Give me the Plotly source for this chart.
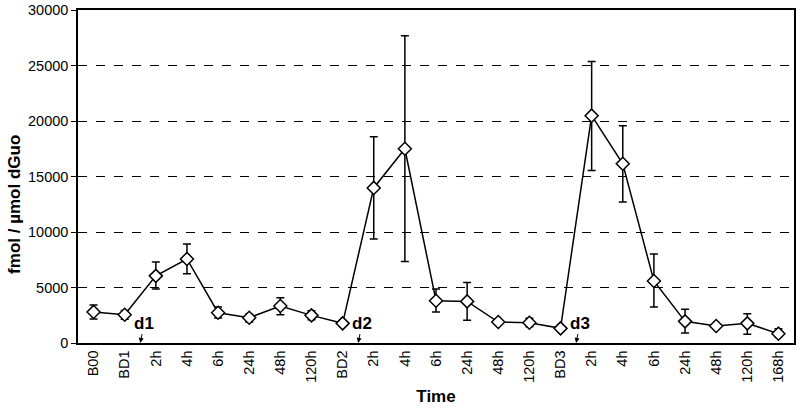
import plotly.graph_objects as go

# sampling points (three dosing cycles)
labels = ['B00', 'BD1', '2h', '4h', '6h', '24h', '48h', '120h',
          'BD2', '2h', '4h', '6h', '24h', '48h', '120h',
          'BD3', '2h', '4h', '6h', '24h', '48h', '120h', '168h']
adducts = [2800, 2550, 6050, 7570, 2730, 2280, 3330, 2490,
           1770, 13970, 17500, 3810, 3750, 1890, 1830,
           1320, 20480, 16150, 5590, 1950, 1530, 1770, 840]
err_up = [630, 370, 1250, 1350, 510, 300, 750, 420,
          0, 4600, 10190, 1050, 1710, 150, 390,
          0, 4870, 3430, 2430, 1080, 150, 870, 450]
err_down = [630, 400, 1190, 1330, 480, 390, 780, 390,
            0, 4600, 10150, 1020, 1710, 150, 360,
            0, 4930, 3450, 2340, 1050, 150, 990, 270]
doses = ['d1', 'd2', 'd3']
dose_pos = [1.5, 8.5, 15.5]

xs = list(range(len(labels)))
font = 'Liberation Sans, Arial, sans-serif'

fig = go.Figure(go.Scatter(
    x=xs, y=adducts, mode='lines+markers',
    line=dict(color='black', width=1.5),
    marker=dict(symbol='diamond', size=10, color='white',
                line=dict(color='black', width=1.5)),
    error_y=dict(type='data', array=err_up, arrayminus=err_down,
                 color='black', thickness=1.5, width=4),
    showlegend=False))

for name, pos in zip(doses, dose_pos):
    fig.add_annotation(x=pos, y=0, xref='x', yref='y', text='<b>%s</b>' % name,
                       showarrow=True, arrowhead=2, arrowsize=1, arrowwidth=1,
                       arrowcolor='black', ax=4, ay=-20,
                       font=dict(family=font, size=17, color='black'))

# y title as annotation: it sits lower than the plot centre in the original
fig.add_annotation(x=-0.0885, y=12500, xref='paper', yref='y', xanchor='center',
                   text='<b>fmol / µmol dGuo</b>', textangle=-90, showarrow=False,
                   font=dict(family=font, size=17, color='black'))

fig.update_layout(
    width=800, height=413,
    margin=dict(l=78, r=6, t=10, b=70),
    paper_bgcolor='white', plot_bgcolor='white',
    font=dict(family=font, size=14.5, color='black'),
)
fig.update_xaxes(range=[-0.5, 22.5], tickvals=xs, ticktext=labels, tickangle=-90,
                 showgrid=False, zeroline=False, showline=True, linecolor='black',
                 linewidth=1.5, mirror=True, ticks='', automargin=False,
                 title=dict(text='<b>Time</b>', font=dict(size=17), standoff=8))
fig.update_yaxes(range=[0, 30000], dtick=5000, tickformat='d', showgrid=True,
                 gridcolor='black', griddash='dash', gridwidth=1, zeroline=False,
                 showline=True, linecolor='black', linewidth=1.5, mirror=True,
                 ticks='outside', ticklen=5, tickcolor='black', tickwidth=1,
                 automargin=False)

fig.write_html('out.html', config={'displayModeBar': False},
               post_script="document.body.style.margin='0';")
